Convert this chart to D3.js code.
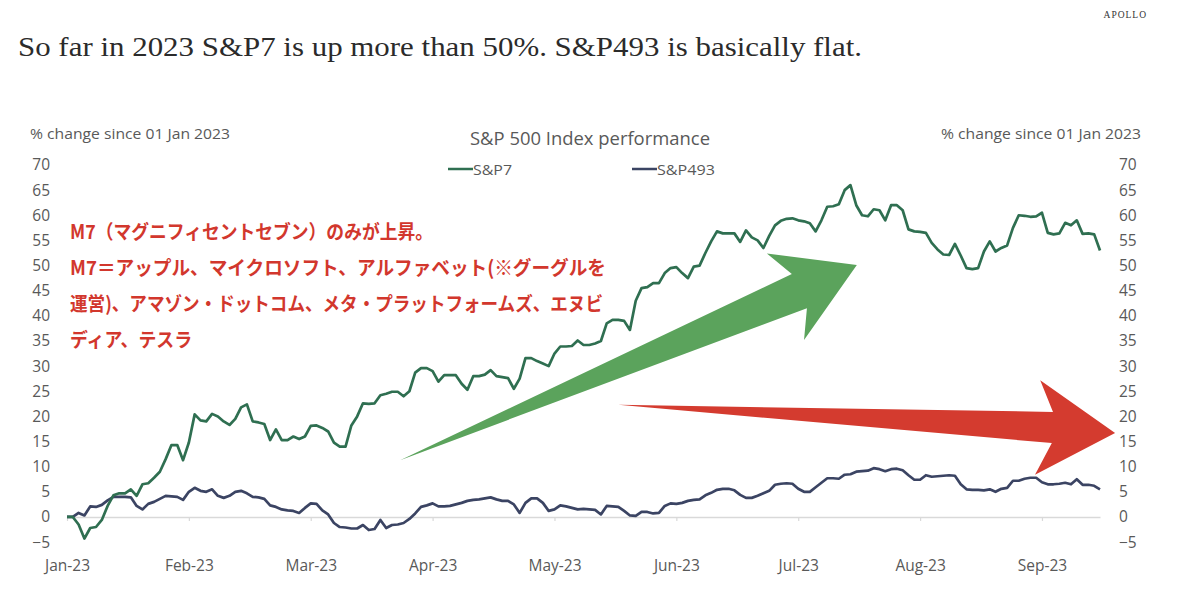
<!DOCTYPE html>
<html>
<head>
<meta charset="utf-8">
<script src="https://cdn.jsdelivr.net/npm/d3@7"></script>
<style>
  html, body { margin: 0; padding: 0; background: #ffffff; }
  svg { display: block; }
</style>
</head>
<body>
<svg id="chart" width="1184" height="596"></svg>
<script>
// ---- data ----
const monthLabels = ["Jan-23","Feb-23","Mar-23","Apr-23","May-23","Jun-23","Jul-23","Aug-23","Sep-23"];
const yTickValues = [-5,0,5,10,15,20,25,30,35,40,45,50,55,60,65,70];
const seriesNames = ["S&P7","S&P493"];

const sp7 = [
  0,0,-1.5,-4.3,-2.2,-2,-0.6,2.2,4.3,4.7,
  4.7,5.5,4.2,6.5,6.7,7.8,9,11.5,14.3,14.3,
  11.3,14.8,20.4,19.2,19,20.5,20,19,18.3,19.5,
  21.8,22.4,19,18.8,18.5,15.3,17.4,15.3,15.3,16,
  15.5,16,18.1,18.2,17.7,17,14.8,14,14,18.2,
  20,22.6,22.5,22.6,24.2,24.5,24.9,24.9,24,25,
  28.7,29.6,29.6,29,26.9,28.2,28.2,28.2,26.5,25.3,
  28,28,28.3,29.2,28,27.8,27.6,25.5,27.5,31.6,
  31.6,31,30.5,30,32.5,33.9,33.9,34,35.1,34.2,
  34.2,34.5,35,38.5,39.2,39.2,39,37.2,43,45.5,
  45.7,46.5,46.5,48.5,49.5,49.7,48.5,47.5,49.8,50,
  52.5,54.8,56.8,56.4,56.4,56.4,54.7,57,55.6,55,
  53.5,55.9,58,58.9,59.3,59.4,59,58.8,58.4,56.8,
  59,61.7,61.8,62.2,65,66,62,60,59.8,61.2,
  61,59,62,62,61,57.2,56.8,56.7,56.5,54.5,
  53.2,52.2,52.1,54.3,52,49.5,49.3,49.5,52.8,54.8,
  52.8,53.5,54,57.5,60,59.9,59.7,59.8,60.5,56.5,
  56.2,56.4,58.5,58,59,56.3,56.4,56.2,53
];
const sp493 = [
  0,0,0.8,0.3,2.1,2,2.4,3.3,4,4,
  4,3.9,2.2,1.5,2.6,3,3.6,4.2,4.1,4,
  3.4,5,5.8,5.2,5,5.5,4.2,3.8,4.2,5,
  5.2,4.7,4,3.9,3.6,2.3,2,1.5,1.3,1.2,
  0.8,1.8,2.7,2.6,1.3,0.5,-1.2,-2,-2.1,-2.3,
  -2.3,-1.6,-2.6,-2.4,-0.6,-2.2,-1.6,-1.5,-1.2,-0.4,
  0.7,2,2.3,2.7,2.1,2.1,2.2,2.5,2.8,3.2,
  3.4,3.5,3.7,3.9,3.5,3.2,3.2,2.5,0.8,2.8,
  3.7,3.7,2.8,1.2,1.5,2.3,2.1,1.8,1.5,1.6,
  1.5,1.4,0.5,2.2,2.1,2,1.2,0.3,0.2,1,
  1,0.7,0.8,2.2,2.7,2.6,2.8,3.2,3.4,3.5,
  4.3,4.8,5.4,5.6,5.6,5.3,4.4,3.8,3.8,4.2,
  4.7,5.2,6.4,6.6,6.7,6.6,5.6,5,5,5.9,
  6.8,7.7,7.7,7.6,8.4,8.5,9,9.1,9.2,9.7,
  9.5,9.1,9.5,9.6,9.3,8.3,7.4,7.4,8.3,8,
  8.1,8.2,8.3,8.2,6.5,5.5,5.4,5.4,5.3,5.5,
  5,5.6,5.8,7.2,7.2,7.6,7.8,7.8,6.9,6.5,
  6.5,6.6,6.8,6.5,7.5,6.4,6.4,6.2,5.5
];

// annotation arrows in data space [trading-day index, % change]
const greenArrow = [[57.4,11.3],[124.9,48.3],[120.6,52.4],[136.1,50.1],[127.0,35.2],[127.5,41.5]];
const redArrow = [[95.0,22.3],[169.9,20.9],[167.7,27.2],[180.6,16.7],[166.8,8.4],[169.7,14.7]];

const noteLines = [
  "M7（マグニフィセントセブン）のみが上昇。",
  "M7＝アップル、マイクロソフト、アルファベット(※グーグルを",
  "運営)、アマゾン・ドットコム、メタ・プラットフォームズ、エヌビ",
  "ディア、テスラ"
];
const noteWidths = [363, 536, 533, 122];

// ---- drawing ----
const svg = d3.select("#chart");
const W = 1184, H = 596;
const daysPerMonth = 21;
const sansFont = "'Open Sans', 'Noto Sans', sans-serif";
const gray = "#595959";
const c7 = "#2f6f51", c493 = "#3b4463";

svg.append("rect").attr("width", W).attr("height", H).attr("fill", "#fff");

const x = d3.scaleLinear().domain([0, sp7.length - 1]).range([67, 1100]);
const y = d3.scaleLinear().domain([-5, 70]).range([542.1, 165]);

// title
svg.append("text").attr("x", 18).attr("y", 56)
  .attr("font-family", "'Liberation Serif', 'DejaVu Serif', serif")
  .attr("font-size", 27).attr("fill", "#2b2b2b")
  .attr("textLength", 844).attr("lengthAdjust", "spacingAndGlyphs")
  .text("So far in 2023 S&P7 is up more than 50%. S&P493 is basically flat.");

svg.append("text").attr("x", 1147).attr("y", 18).attr("text-anchor", "end")
  .attr("font-family", "'Liberation Serif', serif").attr("font-size", 9.5)
  .attr("letter-spacing", 1).attr("fill", "#333").text("APOLLO");

// chart title
svg.append("text").attr("x", 590).attr("y", 145).attr("text-anchor", "middle")
  .attr("font-family", sansFont).attr("font-size", 18).attr("fill", gray)
  .attr("textLength", 240).attr("lengthAdjust", "spacingAndGlyphs")
  .text("S&P 500 Index performance");

// axis titles
svg.append("text").attr("x", 30).attr("y", 139)
  .attr("font-family", sansFont).attr("font-size", 15).attr("fill", gray)
  .attr("textLength", 200).attr("lengthAdjust", "spacingAndGlyphs")
  .text("% change since 01 Jan 2023");
svg.append("text").attr("x", 941).attr("y", 139)
  .attr("font-family", sansFont).attr("font-size", 15).attr("fill", gray)
  .attr("textLength", 200).attr("lengthAdjust", "spacingAndGlyphs")
  .text("% change since 01 Jan 2023");

// legend
const legend = [{name: seriesNames[0], color: c7, x0: 448, w: 39}, {name: seriesNames[1], color: c493, x0: 632, w: 58}];
legend.forEach(l => {
  svg.append("line").attr("x1", l.x0).attr("x2", l.x0 + 25).attr("y1", 169).attr("y2", 169)
    .attr("stroke", l.color).attr("stroke-width", 2.5);
  svg.append("text").attr("x", l.x0 + 25).attr("y", 174.5)
    .attr("font-family", sansFont).attr("font-size", 14.5).attr("fill", gray)
    .attr("textLength", l.w).attr("lengthAdjust", "spacingAndGlyphs")
    .text(l.name);
});

// y axes
const yAxisL = svg.append("g").attr("transform", "translate(53,0)")
  .call(d3.axisLeft(y).tickValues(yTickValues).tickSize(0).tickPadding(3));
const yAxisR = svg.append("g").attr("transform", "translate(1116,0)")
  .call(d3.axisRight(y).tickValues(yTickValues).tickSize(0).tickPadding(3));
[yAxisL, yAxisR].forEach(g => {
  g.select(".domain").remove();
  g.selectAll("text").attr("font-family", sansFont).attr("font-size", 15.5).attr("fill", gray);
});

// x axis on zero line
const monthIdx = monthLabels.map((d, i) => i * daysPerMonth);
const xAxis = svg.append("g").attr("transform", `translate(0,${y(0)})`)
  .call(d3.axisBottom(x).tickValues(monthIdx).tickFormat((d, i) => monthLabels[i])
    .tickSize(4).tickSizeOuter(0).tickPadding(39));
xAxis.select(".domain").attr("stroke", "#d9d9d9").attr("stroke-width", 1.5);
xAxis.selectAll(".tick line").attr("stroke", "#d9d9d9").attr("stroke-width", 1.2);
xAxis.selectAll("text").attr("font-family", sansFont).attr("font-size", 15.5).attr("fill", gray);

// lines
const line = d3.line().x((d, i) => x(i)).y(d => y(d)).curve(d3.curveLinear);
svg.append("path").datum(sp493).attr("d", line).attr("fill", "none")
  .attr("stroke", c493).attr("stroke-width", 2.7).attr("stroke-linejoin", "round");
svg.append("path").datum(sp7).attr("d", line).attr("fill", "none")
  .attr("stroke", c7).attr("stroke-width", 2.7).attr("stroke-linejoin", "round");

// arrows
const poly = d3.line().x(d => x(d[0])).y(d => y(d[1]));
svg.append("path").attr("d", poly(greenArrow) + "Z").attr("fill", "#5ba35c");
svg.append("path").attr("d", poly(redArrow) + "Z").attr("fill", "#d43b2f");

// annotation text
const note = svg.append("g")
  .attr("font-family", "'Noto Sans CJK JP', sans-serif").attr("font-weight", 700)
  .attr("font-size", 19.5).attr("fill", "#d2372d");
noteLines.forEach((t, i) => {
  note.append("text").attr("x", 70).attr("y", 239 + i * 36)
    .attr("textLength", noteWidths[i]).attr("lengthAdjust", "spacingAndGlyphs")
    .text(t);
});
</script>
</body>
</html>
